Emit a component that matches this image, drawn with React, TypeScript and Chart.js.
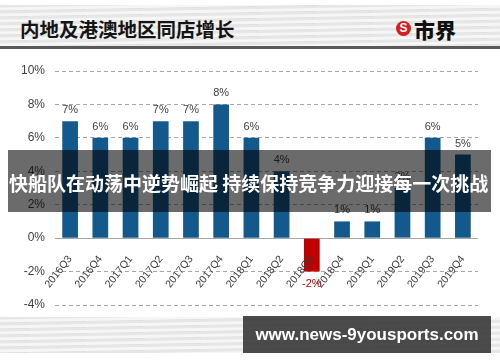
import React, { useEffect, useRef } from "react";
import { Chart, registerables } from "chart.js";

Chart.register(...registerables);

const categories = [
  "2016Q3", "2016Q4", "2017Q1", "2017Q2", "2017Q3", "2017Q4", "2018Q1",
  "2018Q2", "2018Q3", "2018Q4", "2019Q1", "2019Q2", "2019Q3", "2019Q4",
];
const growth = [7, 6, 6, 7, 7, 8, 6, 4, -2, 1, 1, 3, 6, 5];
const yMin = -4;
const yMax = 10;
const yStep = 2;

const titleText = "内地及港澳地区同店增长";
const logoText = "市界";
const bannerText = "快船队在动荡中逆势崛起 持续保持竞争力迎接每一次挑战";
const urlText = "www.news-9yousports.com";

const BLUE = "#14598c";
const RED = "#c00000";
const FONT = "'Liberation Sans', Arial, sans-serif";
const CJK = "'Noto Sans CJK SC', sans-serif";

const valueLabels = {
  id: "valueLabels",
  afterDatasetsDraw(chart: any) {
    const ctx = chart.ctx;
    const meta = chart.getDatasetMeta(0);
    ctx.save();
    ctx.font = `11px ${FONT}`;
    ctx.textAlign = "center";
    ctx.textBaseline = "middle";
    meta.data.forEach((bar: any, i: number) => {
      const v = growth[i];
      if (v >= 0) {
        ctx.fillStyle = "#404040";
        ctx.fillText(v + "%", bar.x, bar.y - 11);
      } else {
        ctx.fillStyle = RED;
        ctx.fillText(v + "%", bar.x, bar.y + 12);
      }
    });
    ctx.restore();
  },
};

function ChartCanvas() {
  const ref = useRef<HTMLCanvasElement>(null);
  useEffect(() => {
    if (!ref.current) return;
    const chart = new Chart(ref.current, {
      type: "bar",
      data: {
        labels: categories,
        datasets: [
          {
            data: growth,
            backgroundColor: growth.map((v) => (v < 0 ? RED : BLUE)),
            borderWidth: 0,
            categoryPercentage: 1,
            barPercentage: 0.52,
          },
        ],
      },
      options: {
        animation: false,
        responsive: false,
        devicePixelRatio: 1,
        layout: { padding: { top: 71, bottom: 57, left: 0, right: 22 } },
        plugins: {
          legend: { display: false },
          tooltip: { enabled: false },
          title: { display: false },
        },
        scales: {
          x: {
            type: "category",
            position: { y: 0 } as any,
            offset: true,
            grid: { display: false },
            border: { display: false },
            ticks: {
              z: 1,
              autoSkip: false,
              minRotation: 52,
              maxRotation: 52,
              padding: 7,
              color: "#3a3a3a",
              font: { family: FONT, size: 10.5 },
            },
          },
          y: {
            min: yMin,
            max: yMax,
            afterFit: (scale: any) => {
              scale.width = 55;
            },
            ticks: {
              stepSize: yStep,
              padding: 10,
              color: "#404040",
              font: { family: FONT, size: 12 },
              callback: (v: any) => v + "%",
            },
            grid: {
              drawTicks: false,
              color: "#a6a6a6",
              lineWidth: 1,
            },
            border: {
              display: false,
              dash: (ctx: any) => (ctx.tick && ctx.tick.value === 0 ? [] : [4, 3]),
            },
          },
        },
      },
      plugins: [valueLabels],
    });
    return () => chart.destroy();
  }, []);
  return (
    <canvas
      ref={ref}
      width={500}
      height={362}
      style={{ position: "absolute", left: 0, top: 0, width: 500, height: 362 }}
    />
  );
}

const streaks =
  "repeating-linear-gradient(179deg, #e6e6e6 0px, #e6e6e6 2px, #f6f6f6 3px, #f6f6f6 5px, #dedede 6px)";

export default function App() {
  return (
    <div
      style={{
        position: "absolute",
        left: 0,
        top: 0,
        width: 500,
        height: 362,
        background: "#ffffff",
        overflow: "hidden",
      }}
    >
      {/* header band */}
      <div style={{ position: "absolute", left: 0, top: 5, width: 500, height: 42, background: streaks }} />
      <div style={{ position: "absolute", left: 0, top: 46, width: 500, height: 3, background: "#5a5a5a" }} />
      <div
        style={{
          position: "absolute",
          left: 20,
          top: 17,
          fontFamily: CJK,
          fontWeight: 700,
          fontSize: 19.5,
          lineHeight: "24px",
          color: "#151515",
          whiteSpace: "nowrap",
        }}
      >
        {titleText}
      </div>
      <div
        style={{
          position: "absolute",
          left: 396,
          top: 21,
          width: 15,
          height: 15,
          borderRadius: "50%",
          background: "#d81e1e",
          color: "#fff",
          fontFamily: FONT,
          fontWeight: 700,
          fontSize: 12,
          lineHeight: "15px",
          textAlign: "center",
        }}
      >
        S
      </div>
      <div
        style={{
          position: "absolute",
          left: 414,
          top: 17,
          fontFamily: CJK,
          fontWeight: 900,
          fontSize: 21,
          lineHeight: "24px",
          color: "#111",
          whiteSpace: "nowrap",
        }}
      >
        {logoText}
      </div>

      {/* footer band */}
      <div style={{ position: "absolute", left: 0, top: 317, width: 500, height: 36, background: streaks }} />

      <ChartCanvas />

      {/* banner overlay */}
      <div
        style={{
          position: "absolute",
          left: 8,
          top: 150,
          width: 483,
          height: 62,
          background: "rgba(0,0,0,0.58)",
        }}
      />
      <div
        style={{
          position: "absolute",
          left: 9,
          top: 169,
          width: 482,
          fontFamily: CJK,
          fontWeight: 700,
          fontSize: 19,
          lineHeight: "28px",
          color: "#ffffff",
          whiteSpace: "nowrap",
        }}
      >
        {bannerText}
      </div>

      {/* url box */}
      <div
        style={{
          position: "absolute",
          left: 243,
          top: 316,
          width: 248,
          height: 37,
          background: "rgba(60,60,60,0.92)",
          color: "#fff",
          fontFamily: FONT,
          fontWeight: 700,
          fontSize: 17,
          lineHeight: "37px",
          textAlign: "center",
          whiteSpace: "nowrap",
        }}
      >
        {urlText}
      </div>
    </div>
  );
}
